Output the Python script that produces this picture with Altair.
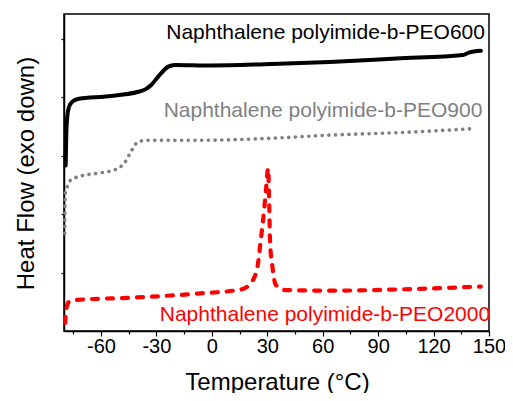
import altair as alt
import pandas as pd

# PEO600 (black solid)
t600 = [-79.1, -78.76, -78.23, -77.31, -75.54, -71.94, -57.6, -39.7, -35.5, -32.7, -29.0,
        -23.6, -20.0, -0.5, 28.5, 63.9, 99.9, 135.9, 139.1, 145.6]
hf600 = [2.83, 3.38, 3.66, 3.83, 3.92, 3.97, 4.01, 4.09, 4.14, 4.21, 4.35,
         4.52, 4.55, 4.54, 4.56, 4.60, 4.66, 4.72, 4.76, 4.79]

# PEO900 (grey dotted)
t900 = [-79.6, -79.5, -79.3, -78.2, -76.4, -71.94, -61.2, -52.2, -46.9, -43.3, -39.7,
        -34.35, -7.5, 28.3, 64.1, 99.9, 142.0]
hf900 = [1.67, 2.07, 2.35, 2.47, 2.58, 2.64, 2.70, 2.76, 2.89, 3.09, 3.24,
         3.26, 3.26, 3.29, 3.35, 3.39, 3.46]

# PEO2000 (red dashed)
t2000 = [-79.3, -79.1, -77.3, -73.7, -43.3, -7.5, 15.75, 21.1, 24.7, 26.5, 28.3, 29.3,
         30.5, 31.0, 31.55, 32.8, 34.55, 39.9, 63.9, 99.9, 145.6]
hf2000 = [0.14, 0.31, 0.50, 0.53, 0.57, 0.64, 0.71, 0.82, 1.10, 1.56, 2.07, 2.41,
          2.78, 2.24, 1.50, 1.10, 0.79, 0.70, 0.69, 0.71, 0.76]

labels = ["Naphthalene polyimide-b-PEO600", "Naphthalene polyimide-b-PEO900",
          "Naphthalene polyimide-b-PEO2000"]
label_t = [147.8, 146.4, 150.6]
label_hf = [4.99, 3.66, 0.17]
colors = ["#000000", "#808080", "#ff0000"]

x_ticks = list(range(-75, 151, 15))
y_ticks = [1, 2, 3, 4, 5]

FONT = "Liberation Sans"


def frame(t, hf):
    return pd.DataFrame({"T": t, "HF": hf, "i": list(range(len(t)))})


x_scale = alt.Scale(domain=[-80, 150], nice=False, zero=False)
y_scale = alt.Scale(domain=[0, 5.42], nice=False, zero=False)

x_axis = alt.Axis(
    title="Temperature (°C)",
    values=x_ticks,
    labelExpr="datum.value % 30 === 0 ? '' + datum.value : ''",
    tickSize={"condition": {"test": "datum.value % 30 === 0", "value": 5}, "value": 3},
    labelFlush=False,
    labelOverlap=False,
    labelBaseline="alphabetic",
    labelPadding=16,
    titleX=213,
    titleY=58,
    titleBaseline="alphabetic",
    titleAlign="center",
    grid=False,
)
y_axis = alt.Axis(
    title="Heat Flow (exo down)",
    values=y_ticks,
    labels=False,
    tickSize=3,
    titleX=-31,
    titleY=159,
    titleAngle=270,
    titleBaseline="alphabetic",
    titleAlign="center",
    grid=False,
)

X = alt.X("T:Q", scale=x_scale, axis=x_axis)
Y = alt.Y("HF:Q", scale=y_scale, axis=y_axis)

l600 = alt.Chart(frame(t600, hf600)).mark_line(
    color=colors[0], strokeWidth=4, interpolate="monotone", strokeCap="round"
).encode(x=X, y=Y, order="i:Q")

l900 = alt.Chart(frame(t900, hf900)).mark_line(
    color=colors[1], strokeWidth=3.6, interpolate="monotone", strokeCap="round",
    strokeDash=[0.1, 6.6]
).encode(x=X, y=Y, order="i:Q")

l2000 = alt.Chart(frame(t2000, hf2000)).mark_line(
    color=colors[2], strokeWidth=4.2, interpolate="monotone", strokeCap="round",
    strokeDash=[6, 9]
).encode(x=X, y=Y, order="i:Q")

lab_df = pd.DataFrame({"label": labels, "T": label_t, "HF": label_hf, "c": colors})
texts = alt.Chart(lab_df).mark_text(
    align="right", baseline="alphabetic", fontSize=21, font=FONT
).encode(x=X, y=Y, text="label:N", color=alt.Color("c:N", scale=None))

chart = alt.layer(l600, l900, l2000, texts).properties(
    width=425, height=317,
    autosize=alt.AutoSizeParams(type="none"),
    padding={"left": 56, "top": 6, "right": 16, "bottom": 62},
).configure_view(
    stroke="black", strokeWidth=1.5
).configure_axis(
    domainColor="black", domainWidth=1.5, tickColor="black", tickWidth=1.2,
    labelFont=FONT, labelFontSize=20, labelColor="black",
    titleFont=FONT, titleFontSize=24, titleFontWeight="normal", titleColor="black",
)

chart.save("out.html", embed_options={"renderer": "svg", "actions": False})
